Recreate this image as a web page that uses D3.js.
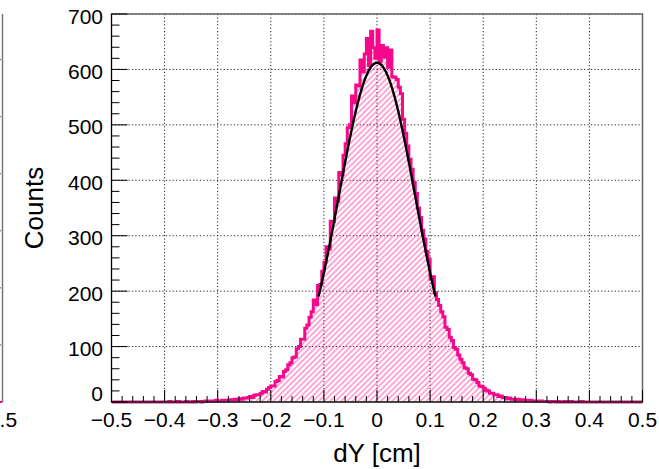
<!DOCTYPE html>
<html>
<head>
<meta charset="utf-8">
<script src="https://cdn.jsdelivr.net/npm/d3@7"></script>
<style>
  html, body { margin: 0; padding: 0; background: #fff; }
  svg { display: block; font-family: "Liberation Sans", Arial, Helvetica, sans-serif; }
</style>
</head>
<body>
<svg id="chart" width="659" height="469"></svg>
<script>
// Histogram of dY residuals: 250 bins over [-0.5, 0.5] cm
const binRange = [-0.5, 0.5];
const counts = [
  0,0,0,0,0,0,0,0,0,0, 0,0,0,0,0,0,0,0,0,0, 0,0,0,0,0,
  0,0,1,0,0,0,1,0,0,0,
  1,0,0,1,0,1,1,0,1,2,
  1,2,1,2,3,1,2,3,2,3,
  3,4,3,5,4,6,5,7,7,8,
  10,8,12,13,13,16,19,18,23,26,
  29,29,37,39,46,45,55,58,67,71,
  80,81,96,100,113,113,133,139,153,163,
  184,176,210,212,236,252,280,276,326,325,
  368,362,414,410,445,466,495,500,552,540,
  572,570,617,596,628,656,607,669,639,620,
  671,614,643,622,639,604,635,587,586,582,
  568,556,510,485,462,438,420,396,376,350,
  333,310,294,272,258,222,226,197,185,174,
  163,154,135,131,117,111,98,95,85,77,
  71,62,60,52,49,41,40,35,29,28,
  25,21,20,16,16,13,13,10,11,8,
  8,6,7,5,5,4,5,3,4,2,
  3,2,3,1,2,2,1,2,1,1,
  1,0,1,1,0,1,0,0,1,0,
  0,1,0,0,0,0,1,0,0,0,
  0,0,0,0,0,0,0,0,0,0, 0,0,0,0,0,0,0,0,0,0, 0,0,0,0,0
];

// Axis ticks
const xMajorTicks = [-0.5, -0.4, -0.3, -0.2, -0.1, 0, 0.1, 0.2, 0.3, 0.4, 0.5];
const yMajorTicks = [0, 100, 200, 300, 400, 500, 600, 700];
const yDomain = [0, 700];

// Gaussian fit result and fit range
const fitConstant = 612;
const fitMean = 0.0;
const fitSigma = 0.072;
const fitRange = [-0.11, 0.11];

// Neighbouring pad (only its right edge shows)
const neighbourYDomain = [0, 680];
const neighbourGrid = [100, 200, 300, 400, 500, 600];

const histColor = "#f5088a";
const svg = d3.select("#chart");
const frame = { left: 111.5, right: 642.5, top: 14, bottom: 402 };

const x = d3.scaleLinear().domain(binRange).range([frame.left, frame.right]);
const y = d3.scaleLinear().domain(yDomain).range([frame.bottom, frame.top]);

const defs = svg.append("defs");
defs.append("clipPath").attr("id", "frameClip")
  .append("rect")
  .attr("x", frame.left).attr("y", frame.top - 2)
  .attr("width", frame.right - frame.left).attr("height", frame.bottom - frame.top + 4);

const hatch = defs.append("pattern")
  .attr("id", "hatch")
  .attr("patternUnits", "userSpaceOnUse")
  .attr("width", 4).attr("height", 4)
  .attr("patternTransform", "rotate(45)");
hatch.append("line")
  .attr("x1", 1).attr("y1", -1).attr("x2", 1).attr("y2", 5)
  .attr("stroke", histColor).attr("stroke-opacity", 0.7).attr("stroke-width", 1);

// ---- neighbouring pad edge on the far left ----
const nx = d3.scaleLinear().domain(binRange).range([2.5 - 531, 2.5]);
const ny = d3.scaleLinear().domain(neighbourYDomain).range([frame.bottom, frame.top]);
const nb = svg.append("g");
nb.selectAll("line.ngrid").data(neighbourGrid).join("line")
  .attr("x1", nx(0.45)).attr("x2", nx(0.5))
  .attr("y1", d => ny(d)).attr("y2", d => ny(d))
  .attr("stroke", "#444").attr("stroke-dasharray", "1,2");
nb.append("line")
  .attr("x1", nx(0.45)).attr("x2", nx(0.5))
  .attr("y1", ny(0)).attr("y2", ny(0))
  .attr("stroke", histColor).attr("stroke-width", 2);
nb.append("line")
  .attr("x1", nx(0.5)).attr("x2", nx(0.5))
  .attr("y1", ny(neighbourYDomain[1])).attr("y2", ny(0))
  .attr("stroke", "#777").attr("stroke-width", 1.5);
nb.append("text")
  .attr("x", nx(0.5)).attr("y", 427)
  .attr("text-anchor", "middle").attr("font-size", 21)
  .text("0.5");

// ---- grid ----
const grid = svg.append("g");
grid.selectAll("line.gx").data(xMajorTicks.slice(1, -1)).join("line")
  .attr("x1", d => x(d)).attr("x2", d => x(d))
  .attr("y1", frame.top).attr("y2", frame.bottom)
  .attr("stroke", "#222").attr("stroke-width", 1).attr("stroke-dasharray", "1.2,2.2");
grid.selectAll("line.gy").data(yMajorTicks.slice(1)).join("line")
  .attr("x1", frame.left).attr("x2", frame.right)
  .attr("y1", d => y(d)).attr("y2", d => y(d))
  .attr("stroke", "#222").attr("stroke-width", 1).attr("stroke-dasharray", "1.2,2.2");

// ---- histogram ----
const nBins = counts.length;
const binWidth = (binRange[1] - binRange[0]) / nBins;
const steps = [];
counts.forEach((c, i) => {
  const lo = binRange[0] + i * binWidth;
  steps.push([lo, c], [lo + binWidth, c]);
});

const histG = svg.append("g").attr("clip-path", "url(#frameClip)");
histG.append("path")
  .datum(steps)
  .attr("d", d3.area().x(d => x(d[0])).y0(y(0)).y1(d => y(d[1])))
  .attr("fill", "url(#hatch)");
histG.append("path")
  .datum([[binRange[0], 0], ...steps, [binRange[1], 0]])
  .attr("d", d3.line().x(d => x(d[0])).y(d => y(d[1])))
  .attr("fill", "none")
  .attr("stroke", histColor).attr("stroke-width", 3)
  .attr("stroke-linejoin", "miter");

// ---- Gaussian fit ----
const gauss = v => fitConstant * Math.exp(-0.5 * Math.pow((v - fitMean) / fitSigma, 2));
const fitPts = d3.range(fitRange[0], fitRange[1] + 1e-9, 0.001).map(v => [v, gauss(v)]);
svg.append("path")
  .datum(fitPts)
  .attr("d", d3.line().x(d => x(d[0])).y(d => y(d[1])).curve(d3.curveBasis))
  .attr("fill", "none").attr("stroke", "#000").attr("stroke-width", 2.4);

// ---- frame and axes ----
svg.append("rect")
  .attr("x", frame.left).attr("y", frame.top)
  .attr("width", frame.right - frame.left).attr("height", frame.bottom - frame.top)
  .attr("fill", "none").attr("stroke", "#666").attr("stroke-width", 1.5);

const axes = svg.append("g").attr("stroke", "#000").attr("stroke-width", 1);
axes.append("line").attr("x1", frame.left).attr("x2", frame.right)
  .attr("y1", frame.bottom).attr("y2", frame.bottom);
axes.append("line").attr("x1", frame.left).attr("x2", frame.left)
  .attr("y1", frame.top).attr("y2", frame.bottom);

const xMinor = x.ticks(50);
axes.selectAll("line.xt").data(xMinor).join("line")
  .attr("x1", d => x(d)).attr("x2", d => x(d))
  .attr("y1", frame.bottom)
  .attr("y2", d => frame.bottom - (xMajorTicks.some(m => Math.abs(m - d) < 1e-9) ? 12 : 6));

const yMinor = y.ticks(35);
axes.selectAll("line.yt").data(yMinor).join("line")
  .attr("y1", d => y(d)).attr("y2", d => y(d))
  .attr("x1", frame.left)
  .attr("x2", d => frame.left + (yMajorTicks.includes(d) ? 16 : 8));

// tick labels
const fmt = d => d === 0 ? "0" : (d < 0 ? "\u2212" : "") + Math.abs(d).toFixed(1);
svg.append("g").selectAll("text").data(xMajorTicks).join("text")
  .attr("x", d => x(d)).attr("y", 427)
  .attr("text-anchor", "middle").attr("font-size", 21)
  .text(fmt);

svg.append("g").selectAll("text").data(yMajorTicks).join("text")
  .attr("x", 103)
  .attr("y", d => d === 0 ? y(d) - 1 : y(d) + 9.5)
  .attr("text-anchor", "end").attr("font-size", 21)
  .text(d => d);

// axis titles
svg.append("text")
  .attr("x", (frame.left + frame.right) / 2).attr("y", 462)
  .attr("text-anchor", "middle").attr("font-size", 26)
  .text("dY [cm]");

svg.append("text")
  .attr("transform", `translate(43,${(frame.top + frame.bottom) / 2}) rotate(-90)`)
  .attr("text-anchor", "middle").attr("font-size", 26)
  .text("Counts");
</script>
</body>
</html>
